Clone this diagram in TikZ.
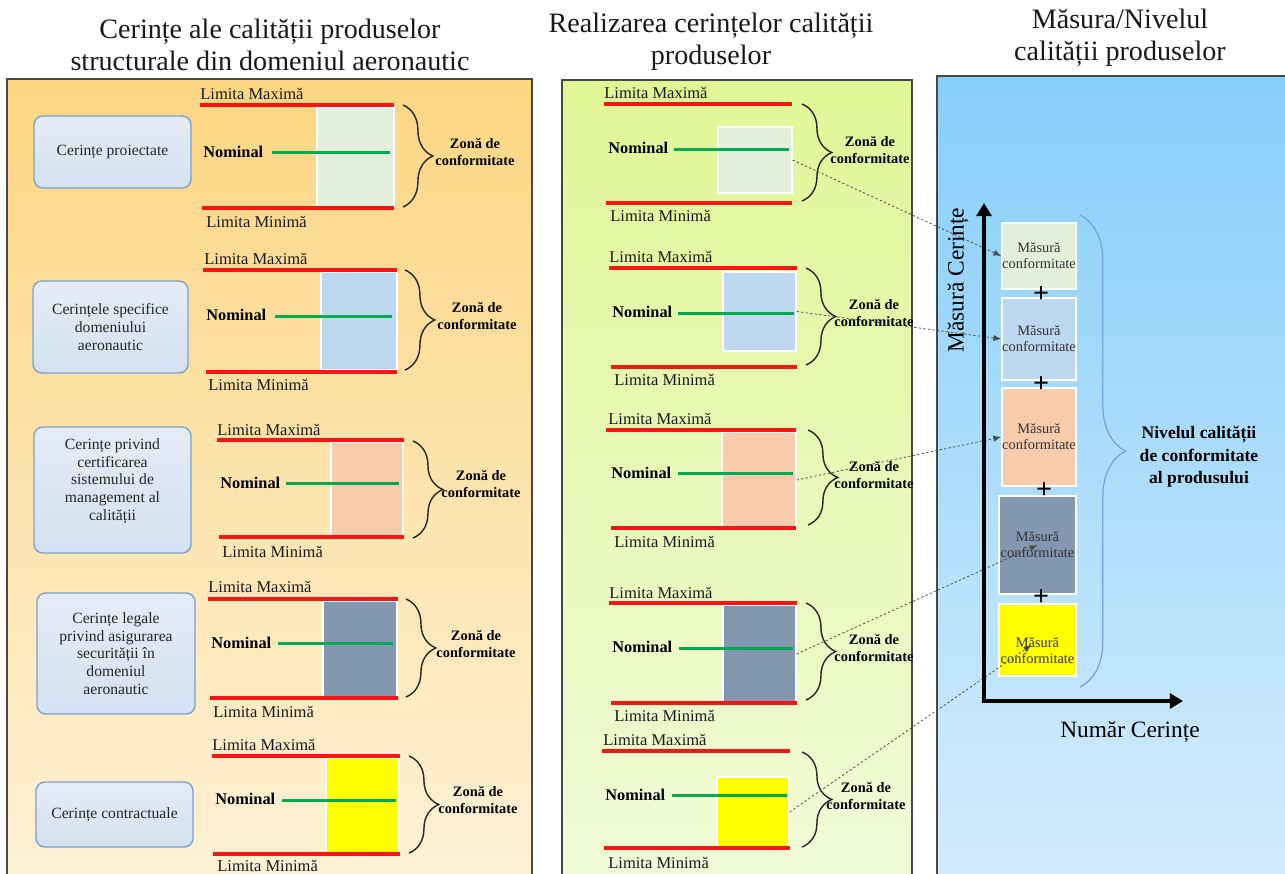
\documentclass[tikz,border=0pt]{standalone}
\usepackage{fontspec}
\setmainfont{Liberation Serif}
\usetikzlibrary{arrows.meta,decorations.pathreplacing,fit}

% zone and panel colours
\definecolor{zgreen}{RGB}{226,239,218}
\definecolor{zblue}{RGB}{189,215,238}
\definecolor{zpeach}{RGB}{248,203,173}
\definecolor{zslate}{RGB}{132,151,176}
\definecolor{zyellow}{RGB}{255,255,0}
\definecolor{limred}{RGB}{250,20,20}
\definecolor{nomgreen}{RGB}{0,170,80}
\definecolor{boxtop}{RGB}{228,236,246}
\definecolor{boxbot}{RGB}{212,225,240}
\definecolor{boxedge}{RGB}{125,160,205}
\definecolor{levelblue}{RGB}{120,160,220}
\definecolor{leftTop}{RGB}{252,214,130}
\definecolor{leftBot}{RGB}{253,241,214}
\definecolor{midTop}{RGB}{224,247,150}
\definecolor{midBot}{RGB}{241,250,216}
\definecolor{rightTop}{RGB}{135,206,250}
\definecolor{rightBot}{RGB}{212,236,252}

\begin{document}
\begin{tikzpicture}[x=0.02cm,y=-0.02cm,
  panel/.style={draw=black!72, line width=0.9pt},
  paneltitle/.style={align=center, inner sep=0, font=\fontsize{16}{18.2}\selectfont, text=black!90},
  limline/.style={draw=limred, line width=2pt},
  nomline/.style={draw=nomgreen, line width=1.7pt},
  limtext/.style={anchor=west, inner sep=0, font=\fontsize{9.4}{11}\selectfont, text=black!90},
  nomtext/.style={anchor=west, inner sep=0, font=\fontsize{9.3}{11}\selectfont\bfseries},
  zonetext/.style={align=center, inner sep=0, font=\fontsize{8.2}{9.7}\selectfont\bfseries},
  zonebox/.style={inner sep=0, draw=white, line width=0.6pt},
  reqbox/.style={inner sep=0, rounded corners=5pt, draw=boxedge, line width=0.8pt,
    top color=boxtop, bottom color=boxbot},
  reqtext/.style={inner sep=0, align=center, font=\fontsize{8.9}{10}\selectfont, text=black!85},
  zbrace/.style={decorate, decoration={brace, amplitude=17pt}, line width=0.8pt, draw=black!85},
  measbox/.style={inner sep=0, draw=white, line width=0.8pt},
  meastext/.style={inner sep=0, align=center, font=\fontsize{8.2}{9.1}\selectfont, text=black!80},
  plussign/.style={inner sep=0, font=\fontsize{16}{16}\selectfont\bfseries},
  axisline/.style={line width=2.6pt,
    {Triangle[length=7.5pt,width=8.5pt]}-{Triangle[length=7.5pt,width=8.5pt]}},
  linkarrow/.style={draw=black!70, line width=0.45pt, dash pattern=on 1.3pt off 1.3pt,
    -{Latex[length=4.5pt,width=3.5pt]}},
  axislabel/.style={inner sep=0, font=\fontsize{13.3}{15}\selectfont},
  levelbrace/.style={decorate, decoration={brace, amplitude=26pt}, draw=levelblue, line width=0.7pt},
  leveltext/.style={align=center, inner sep=0, font=\fontsize{10}{12.8}\selectfont\bfseries}
]
\useasboundingbox (0,0) rectangle (1285,873);
\fill[white] (0,0) rectangle (1285,873);

% ---------- panels ----------
\shade[top color=leftTop, bottom color=leftBot] (7,79) rectangle (532,885);
\draw[panel] (7,79) rectangle (532,885);
\shade[top color=midTop, bottom color=midBot] (562,80) rectangle (912,885);
\draw[panel] (562,80) rectangle (912,885);
\shade[top color=rightTop, bottom color=rightBot] (937,76) rectangle (1295,885);
\draw[panel] (937,885) -- (937,76) -- (1295,76);

% ---------- titles ----------
\node[paneltitle] (tleft) at (270,45) {Cerințe ale calității produselor\\structurale din domeniul aeronautic};
\node[paneltitle] (tmid) at (711,42) {Realizarea cerințelor calității\\produselor};
\node[paneltitle] (tright) at (1120,38) {Măsura/Nivelul\\calității produselor};

% ---------- left panel: requirement categories ----------
% row 1
\node[zonebox, fill=zgreen, fit={(317,107)(394,207)}] (lz1) {};
\draw[limline] (200,105) -- (394,105);
\draw[limline] (202,208) -- (394,208);
\node[limtext] (lmax1) at (200,94) {Limita Maximă};
\node[limtext] (lmin1) at (206,222) {Limita Minimă};
\node[nomtext] (lnom1) at (203,152) {Nominal};
\draw[nomline] (272,152) -- (390,152);
\draw[zbrace] (403,105) -- (403,207);
\node[zonetext] (lzt1) at (475,152) {Zonă de\\conformitate};
\node[reqbox, fit={(34,116)(191,188)}] (req1) {};
\node[reqtext] (req1t) at (req1.center) {Cerințe proiectate};

% row 2
\node[zonebox, fill=zblue, fit={(321,272)(397,370)}] (lz2) {};
\draw[limline] (203,270) -- (397,270);
\draw[limline] (206,372) -- (397,372);
\node[limtext] (lmax2) at (204,259) {Limita Maximă};
\node[limtext] (lmin2) at (208,385) {Limita Minimă};
\node[nomtext] (lnom2) at (206,315) {Nominal};
\draw[nomline] (275,316) -- (392,316);
\draw[zbrace] (405,270) -- (405,370);
\node[zonetext] (lzt2) at (477,316) {Zonă de\\conformitate};
\node[reqbox, fit={(33,281)(188,373)}] (req2) {};
\node[reqtext] (req2t) at (req2.center) {Cerințele specifice\\domeniului\\aeronautic};

% row 3
\node[zonebox, fill=zpeach, fit={(331,442)(403,536)}] (lz3) {};
\draw[limline] (217,440) -- (404,440);
\draw[limline] (219,537) -- (404,537);
\node[limtext] (lmax3) at (217,430) {Limita Maximă};
\node[limtext] (lmin3) at (222,552) {Limita Minimă};
\node[nomtext] (lnom3) at (220,483) {Nominal};
\draw[nomline] (286,483) -- (399,483);
\draw[zbrace] (413,441) -- (413,538);
\node[zonetext] (lzt3) at (481,484) {Zonă de\\conformitate};
\node[reqbox, fit={(34,427)(191,553)}] (req3) {};
\node[reqtext] (req3t) at ([yshift=5]req3.center) {Cerințe privind\\certificarea\\sistemului de\\management al\\calității};

% row 4
\node[zonebox, fill=zslate, fit={(323,601)(397,697)}] (lz4) {};
\draw[limline] (208,599) -- (398,599);
\draw[limline] (210,698) -- (398,698);
\node[limtext] (lmax4) at (208,587) {Limita Maximă};
\node[limtext] (lmin4) at (213,712) {Limita Minimă};
\node[nomtext] (lnom4) at (211,643) {Nominal};
\draw[nomline] (278,643) -- (393,643);
\draw[zbrace] (406,599) -- (406,697);
\node[zonetext] (lzt4) at (476,644) {Zonă de\\conformitate};
\node[reqbox, fit={(37,593)(195,714)}] (req4) {};
\node[reqtext] (req4t) at (req4.center) {Cerințe legale\\privind asigurarea\\securității în\\domeniul\\aeronautic};

% row 5
\node[zonebox, fill=zyellow, fit={(326,758)(399,853)}] (lz5) {};
\draw[limline] (212,756) -- (400,756);
\draw[limline] (213,854) -- (400,854);
\node[limtext] (lmax5) at (212,745) {Limita Maximă};
\node[limtext] (lmin5) at (217,866) {Limita Minimă};
\node[nomtext] (lnom5) at (215,799) {Nominal};
\draw[nomline] (282,800) -- (396,800);
\draw[zbrace] (409,756) -- (409,853);
\node[zonetext] (lzt5) at (478,800) {Zonă de\\conformitate};
\node[reqbox, fit={(36,782)(193,847)}] (req5) {};
\node[reqtext] (req5t) at (req5.center) {Cerințe contractuale};

% ---------- middle panel: achieved requirements ----------
% row 1
\node[zonebox, fill=zgreen, fit={(718,127)(792,193)}] (m1) {};
\draw[limline] (604,104) -- (792,104);
\draw[limline] (606,203) -- (792,203);
\node[limtext] (mmax1) at (604,93) {Limita Maximă};
\node[limtext] (mmin1) at (610,216) {Limita Minimă};
\node[nomtext] (mnom1) at (608,148) {Nominal};
\draw[nomline] (674,149) -- (789,149);
\draw[zbrace] (802,104) -- (802,201);
\node[zonetext] (mzt1) at (870,150) {Zonă de\\conformitate};

% row 2
\node[zonebox, fill=zblue, fit={(723,272)(796,351)}] (m2) {};
\draw[limline] (609,268) -- (797,268);
\draw[limline] (611,367) -- (797,367);
\node[limtext] (mmax2) at (609,257) {Limita Maximă};
\node[limtext] (mmin2) at (614,380) {Limita Minimă};
\node[nomtext] (mnom2) at (612,312) {Nominal};
\draw[nomline] (678,313) -- (794,313);
\draw[zbrace] (806,268) -- (806,365);
\node[zonetext] (mzt2) at (874,313) {Zonă de\\conformitate};

% row 3
\node[zonebox, fill=zpeach, fit={(722,432)(796,528)}] (m3) {};
\draw[limline] (606,430) -- (796,430);
\draw[limline] (611,528) -- (796,528);
\node[limtext] (mmax3) at (608,419) {Limita Maximă};
\node[limtext] (mmin3) at (614,542) {Limita Minimă};
\node[nomtext] (mnom3) at (611,473) {Nominal};
\draw[nomline] (678,473) -- (793,473);
\draw[zbrace] (808,430) -- (808,525);
\node[zonetext] (mzt3) at (874,475) {Zonă de\\conformitate};

% row 4
\node[zonebox, fill=zslate, fit={(723,605)(796,703)}] (m4) {};
\draw[limline] (609,603) -- (797,603);
\draw[limline] (611,703) -- (797,703);
\node[limtext] (mmax4) at (609,593) {Limita Maximă};
\node[limtext] (mmin4) at (614,716) {Limita Minimă};
\node[nomtext] (mnom4) at (612,647) {Nominal};
\draw[nomline] (679,648) -- (793,648);
\draw[zbrace] (806,603) -- (806,700);
\node[zonetext] (mzt4) at (874,648) {Zonă de\\conformitate};

% row 5
\node[zonebox, fill=zyellow, fit={(717,777)(789,847)}] (m5) {};
\draw[limline] (602,751) -- (790,751);
\draw[limline] (604,848) -- (790,848);
\node[limtext] (mmax5) at (603,740) {Limita Maximă};
\node[limtext] (mmin5) at (608,863) {Limita Minimă};
\node[nomtext] (mnom5) at (605,795) {Nominal};
\draw[nomline] (672,795) -- (787,795);
\draw[zbrace] (802,752) -- (802,847);
\node[zonetext] (mzt5) at (866,796) {Zonă de\\conformitate};

% ---------- right panel: quality level ----------
\node[measbox, fill=zgreen, fit={(1002,223)(1076,289)}] (r1) {};
\node[measbox, fill=zblue, fit={(1002,298)(1076,380)}] (r2) {};
\node[measbox, fill=zpeach, fit={(1002,388)(1076,486)}] (r3) {};
\node[measbox, fill=zslate, fit={(999,496)(1076,594)}] (r4) {};
\node[measbox, fill=zyellow, fit={(999,604)(1076,676)}] (r5) {};
\node[meastext] (r1t) at (r1.center) {Măsură\\conformitate};
\node[meastext] (r2t) at (r2.center) {Măsură\\conformitate};
\node[meastext] (r3t) at (r3.center) {Măsură\\conformitate};
\node[meastext] (r4t) at (r4.center) {Măsură\\conformitate};
\node[meastext] (r5t) at ([yshift=-6]r5.center) {Măsură\\conformitate};

\node[plussign] (p1) at (1041,295) {+};
\node[plussign] (p2) at (1041,385) {+};
\node[plussign] (p3) at (1044,491) {+};
\node[plussign] (p4) at (1041,598) {+};

\draw[levelbrace] (1080,215) -- (1080,687);
\node[leveltext] (level) at (1199,457) {Nivelul calității\\de conformitate\\ al produsului};

% links from achieved zones to their measures
\draw[linkarrow] (m1.east) -- (r1.west);
\draw[linkarrow] (m2.east) -- (r2.west);
\draw[linkarrow] (m3.east) -- (r3.west);
\draw[linkarrow] (m4.east) -- (r4.center);
\draw[linkarrow] (m5.east) -- ([shift={(-6,5)}]r5.center);

% axes
\coordinate (ytip) at (984,203);
\coordinate (origin) at (984,701);
\coordinate (xtip) at (1183,701);
\draw[axisline] (ytip) -- (origin) -- (xtip);
\node[axislabel, rotate=90] (ylab) at (958,280) {Măsură Cerințe};
\node[axislabel] (xlab) at (1130,732) {Număr Cerințe};

\end{tikzpicture}
\end{document}
